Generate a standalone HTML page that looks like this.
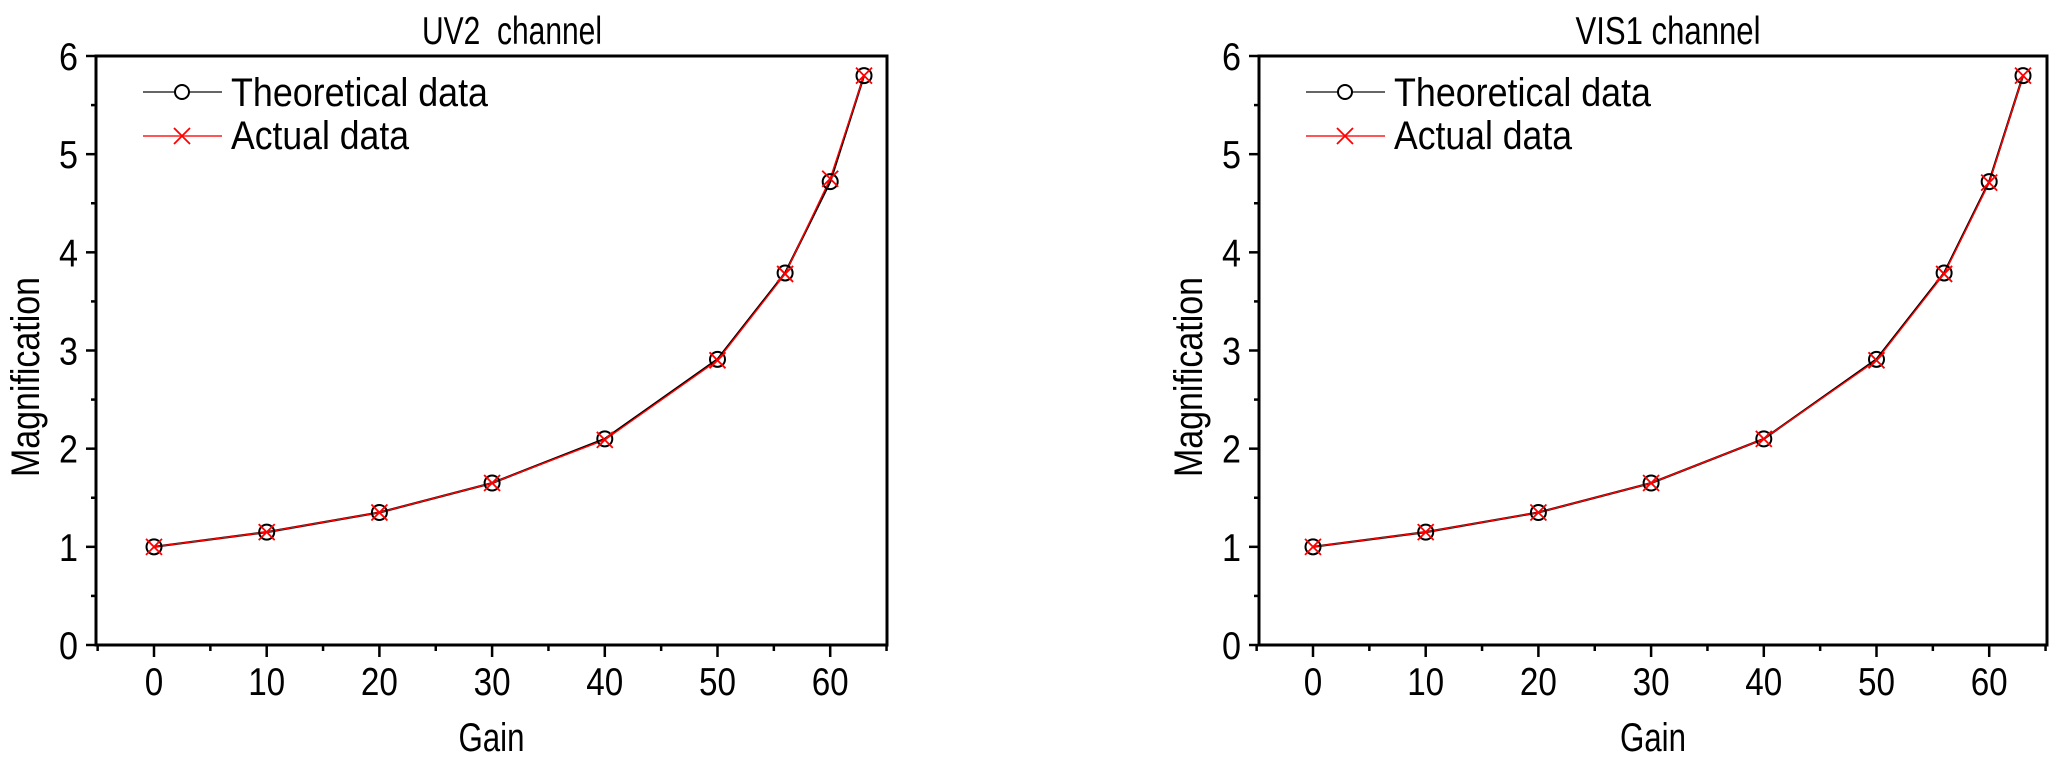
<!DOCTYPE html>
<html><head><meta charset="utf-8"><style>
html,body{margin:0;padding:0;background:#fff;}
svg{display:block;font-family:"Liberation Sans",Arial,sans-serif;}
</style></head><body>
<svg id="s" width="2067" height="761" viewBox="0 0 2067 761" xmlns="http://www.w3.org/2000/svg"></svg>
<script>
const s=document.getElementById('s');let h='';
const th=[[0,1],[10,1.15],[20,1.35],[30,1.65],[40,2.1],[50,2.91],[56,3.79],[60,4.72],[63,5.8]];
const ac1=[[0,1],[10,1.15],[20,1.35],[30,1.65],[40,2.09],[50,2.9],[56,3.78],[60,4.75],[63,5.8]];
const ac2=[[0,1],[10,1.15],[20,1.35],[30,1.65],[40,2.1],[50,2.9],[56,3.78],[60,4.71],[63,5.8]];
const LA='lengthAdjust="spacingAndGlyphs"';
function chart(L,R,x0,title,tc,tl,ac){
 const T=56,B=645,uy=(B-T)/6,ux=11.27;
 const X=v=>x0+v*ux,Y=v=>B-v*uy;
 h+=`<text x="${tc}" y="44" font-size="39" text-anchor="middle" textLength="${tl}" ${LA}>${title}</text>`;
 h+=`<rect x="${L}" y="${T}" width="${R-L}" height="${B-T}" fill="none" stroke="#000" stroke-width="3"/>`;
 for(let i=0;i<=12;i++){const y=B-i*uy/2,len=i%2?5:10;h+=`<line x1="${L-len}" x2="${L}" y1="${y}" y2="${y}" stroke="#000" stroke-width="2.5"/>`;
  if(i%2==0)h+=`<text x="${L-18}" y="${y+14}" font-size="39" text-anchor="end" textLength="19" ${LA}>${i/2}</text>`;}
 for(let v=-5;v<=65;v+=5){const x=X(v),len=v%10==0?12:6;h+=`<line x1="${x}" x2="${x}" y1="${B}" y2="${B+len}" stroke="#000" stroke-width="2.5"/>`;
  if(v%10==0&&v>=0&&v<=60){const n=String(v).length;h+=`<text x="${x}" y="695" font-size="39" text-anchor="middle" textLength="${18.5*n}" ${LA}>${v}</text>`;}}
 h+=`<text x="${(L+R)/2}" y="751" font-size="40" text-anchor="middle" textLength="66" ${LA}>Gain</text>`;
 h+=`<text transform="translate(${L-57},377) rotate(-90)" font-size="40" text-anchor="middle" textLength="200" ${LA}>Magnification</text>`;
 h+=`<polyline points="${th.map(p=>X(p[0])+','+Y(p[1])).join(' ')}" fill="none" stroke="#000" stroke-width="2.2"/>`;
 h+=`<polyline points="${ac.map(p=>X(p[0])+','+Y(p[1])).join(' ')}" fill="none" stroke="#f00" stroke-width="1.4"/>`;
 th.forEach(p=>h+=`<circle cx="${X(p[0])}" cy="${Y(p[1])}" r="7.5" fill="none" stroke="#000" stroke-width="2"/>`);
 ac.forEach(p=>{const x=X(p[0]),y=Y(p[1]);h+=`<path d="M${x-8},${y-8}L${x+8},${y+8}M${x-8},${y+8}L${x+8},${y-8}" stroke="#f00" stroke-width="1.8"/>`;});
 const lx=L+47;
 h+=`<line x1="${lx}" x2="${lx+79}" y1="92" y2="92" stroke="#666" stroke-width="2"/><circle cx="${lx+39}" cy="92" r="7" fill="#fff" stroke="#000" stroke-width="2"/>`;
 h+=`<text x="${lx+88}" y="106" font-size="40" textLength="257" ${LA}>Theoretical data</text>`;
 h+=`<line x1="${lx}" x2="${lx+79}" y1="136" y2="136" stroke="#f55" stroke-width="2"/><path d="M${lx+31},${128}L${lx+47},${144}M${lx+31},${144}L${lx+47},${128}" stroke="#f00" stroke-width="1.8"/>`;
 h+=`<text x="${lx+88}" y="149" font-size="40" textLength="178" ${LA}>Actual data</text>`;
}
chart(96,887,154,'UV2&#160; channel',512,180,ac1);
chart(1259,2047,1313,'VIS1 channel',1668,185,ac2);
s.innerHTML=h;
</script>
</body></html>
